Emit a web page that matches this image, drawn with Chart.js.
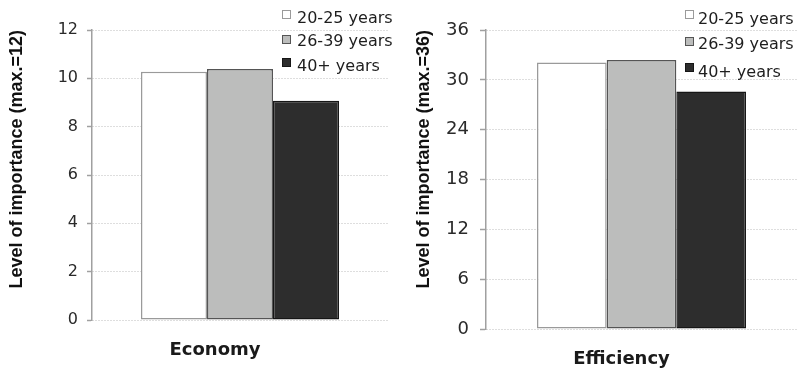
<!DOCTYPE html>
<html>
<head>
<meta charset="utf-8">
<script src="https://cdn.jsdelivr.net/npm/chart.js@4"></script>
<style>
  body { margin: 0; background: #fff; }
  .panel { position: absolute; top: 0; width: 399px; height: 373px; }
  .legend-box { position: absolute; width: 7px; height: 7px; border: 1px solid; }
  .legend-text { position: absolute; font: 16px "DejaVu Sans"; line-height: 20px; color: #1e1e1e; white-space: nowrap; }
</style>
</head>
<body>
<div class="panel" style="left:0"><canvas id="economyChart" width="399" height="373"></canvas></div>
<div class="panel" style="left:399px"><canvas id="efficiencyChart" width="399" height="373"></canvas></div>
<div id="legends"></div>
<script>
// age groups (series)
const groups = ['20-25 years', '26-39 years', '40+ years'];

// Economy
const economyCategory = ['Economy'];
const economyValues = [10.27, 10.39, 9.07];
const economyTicks = [0, 2, 4, 6, 8, 10, 12];

// Efficiency
const efficiencyCategory = ['Efficiency'];
const efficiencyValues = [32.1, 32.4, 28.6];
const efficiencyTicks = [0, 6, 12, 18, 24, 30, 36];

const fills = ['#ffffff', '#bcbdbc', '#2d2d2d'];
const borders = ['#9a9a9a', '#555555', '#161616'];

function makeChart(id, category, values, ticks, opt) {
    const ctx = document.getElementById(id);
    return new Chart(ctx, {
        type: 'bar',
        data: {
            labels: category,
            datasets: groups.map((g, i) => ({
                label: g,
                data: [values[i]],
                backgroundColor: fills[i],
                borderColor: borders[i],
                borderWidth: 1.5,
                borderSkipped: false
            }))
        },
        options: {
            responsive: false,
            animation: false,
            layout: { padding: { top: 30, right: opt.right, left: 0, bottom: 0 } },
            datasets: { bar: { categoryPercentage: opt.catPct, barPercentage: 1 } },
            plugins: { legend: { display: false }, tooltip: { enabled: false } },
            scales: {
                x: {
                    grid: { display: false },
                    border: { display: false },
                    ticks: {
                        color: '#1a1a1a',
                        font: { family: 'DejaVu Sans', size: 18, weight: 'bold' },
                        padding: 12,
                        labelOffset: opt.labelOffset
                    },
                    afterFit: s => { s.height = opt.xHeight; }
                },
                y: {
                    min: ticks[0],
                    max: ticks[ticks.length - 1],
                    ticks: {
                        stepSize: ticks[1] - ticks[0],
                        color: '#2a2a2a',
                        padding: opt.tickPad,
                        font: { family: 'DejaVu Sans', size: opt.tickSize }
                    },
                    grid: { color: '#bdbdbd', lineWidth: 1, tickLength: opt.tickLen, tickColor: '#a0a0a0', tickWidth: 1.5 },
                    border: { color: '#a0a0a0', width: 1.5, dash: [1, 2] },
                    title: {
                        display: true,
                        text: 'Level of importance (max.=' + ticks[ticks.length - 1] + ')',
                        align: 'end',
                        color: '#111',
                        font: { family: 'Liberation Sans', size: 18, weight: 'bold' },
                        padding: { top: opt.titlePad, bottom: 0 }
                    },
                    afterFit: s => { s.width = opt.yWidth; }
                }
            }
        }
    });
}

makeChart('economyChart', economyCategory, economyValues, economyTicks, {
    right: 11, catPct: 0.669, labelOffset: -25, xHeight: 53,
    yWidth: 92, tickPad: 9, tickLen: 5, tickSize: 16, titlePad: 6
});
makeChart('efficiencyChart', efficiencyCategory, efficiencyValues, efficiencyTicks, {
    right: 1, catPct: 0.672, labelOffset: -20, xHeight: 44,
    yWidth: 87, tickPad: 11, tickLen: 6, tickSize: 18, titlePad: 14
});

// legends drawn as html text next to the plots
function buildLegend(boxX, textX, boxTops, textTops) {
    const root = document.getElementById('legends');
    groups.forEach((g, i) => {
        const box = document.createElement('div');
        box.className = 'legend-box';
        box.style.left = boxX + 'px';
        box.style.top = boxTops[i] + 'px';
        box.style.background = fills[i];
        box.style.borderColor = borders[i];
        root.appendChild(box);
        const t = document.createElement('div');
        t.className = 'legend-text';
        t.style.left = textX + 'px';
        t.style.top = textTops[i] + 'px';
        t.textContent = g;
        root.appendChild(t);
    });
}
buildLegend(282, 297, [10, 35, 58], [8, 31, 56]);
buildLegend(685, 698, [10, 37, 63], [9, 34, 62]);
</script>
</body>
</html>
